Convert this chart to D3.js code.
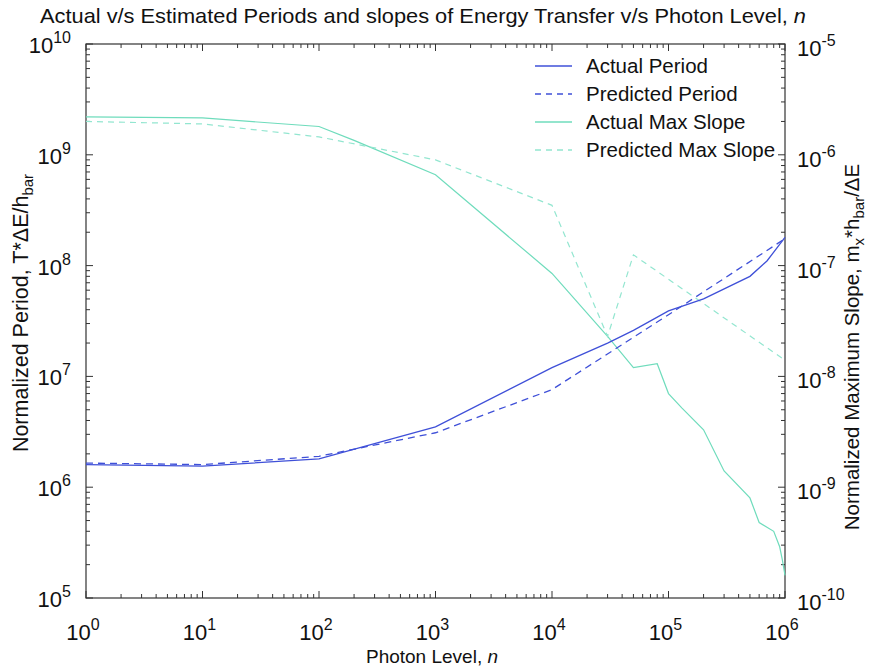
<!DOCTYPE html>
<html>
<head>
<meta charset="utf-8">
<script src="https://cdn.jsdelivr.net/npm/d3@7"></script>
<style>
  body { margin: 0; background: #fff; }
  text { font-family: "Liberation Sans", Arial, sans-serif; fill: #111; }
</style>
</head>
<body>
<svg id="chart" width="874" height="671"></svg>
<script>
// photon levels (x) for each series
const nPeriod = [1, 10, 100, 1000, 10000, 30000, 50000, 100000, 200000, 500000, 700000, 1000000];
const actualPeriod = [1.6e6, 1.55e6, 1.8e6, 3.5e6, 1.2e7, 2.0e7, 2.6e7, 3.9e7, 5.0e7, 8.0e7, 1.1e8, 1.8e8];
const nPred = [1, 10, 100, 1000, 10000, 100000, 1000000];
const predictedPeriod = [1.65e6, 1.6e6, 1.9e6, 3.1e6, 7.6e6, 3.6e7, 1.75e8];

const nSlope = [1, 10, 100, 200, 1000, 10000, 30000, 50000, 80000, 100000, 130000, 200000, 300000, 500000, 600000, 800000, 900000, 950000, 1000000];
const actualSlope = [2.2e-6, 2.15e-6, 1.8e-6, 1.35e-6, 6.6e-7, 8.5e-8, 2.3e-8, 1.2e-8, 1.3e-8, 7e-9, 5.2e-9, 3.3e-9, 1.4e-9, 8e-10, 4.8e-10, 4e-10, 2.9e-10, 2.2e-10, 1.6e-10];
const nPredSlope = [1, 10, 100, 1000, 10000, 30000, 50000, 1000000];
const predictedSlope = [2.0e-6, 1.9e-6, 1.45e-6, 9e-7, 3.5e-7, 2.3e-8, 1.25e-7, 1.4e-8];

const xExp = [0, 1, 2, 3, 4, 5, 6];
const yLeftExp = [5, 6, 7, 8, 9, 10];
const yRightExp = [-10, -9, -8, -7, -6, -5];

const legendNames = ["Actual Period", "Predicted Period", "Actual Max Slope", "Predicted Max Slope"];

const blue = "#3f50d8", green = "#6fdcbc", green2 = "#93e6d0";

const pLeft = 86, pRight = 785, pTop = 44, pBottom = 598;
const svg = d3.select("#chart");

const x = d3.scaleLog().domain([1, 1e6]).range([pLeft, pRight]);
const yL = d3.scaleLog().domain([1e5, 1e10]).range([pBottom, pTop]);
const yR = d3.scaleLog().domain([1e-10, 1e-5]).range([pBottom, pTop]);

// minor + major tick values
function allTicks(lo, hi) {
  const t = [];
  for (let e = lo; e < hi; e++) for (let m = 1; m < 10; m++) t.push(m * Math.pow(10, e));
  t.push(Math.pow(10, hi));
  return t;
}
const isMajor = v => Math.abs(Math.log10(v) - Math.round(Math.log10(v))) < 1e-9;

const g = svg.append("g");
const tickCol = "#333";
// x ticks bottom and top
allTicks(0, 6).forEach(v => {
  const len = isMajor(v) ? 7 : 4;
  const px = x(v);
  g.append("line").attr("x1", px).attr("x2", px).attr("y1", pBottom).attr("y2", pBottom - len).attr("stroke", tickCol);
  g.append("line").attr("x1", px).attr("x2", px).attr("y1", pTop).attr("y2", pTop + len).attr("stroke", tickCol);
});
allTicks(5, 10).forEach(v => {
  const len = isMajor(v) ? 7 : 4;
  const py = yL(v);
  g.append("line").attr("x1", pLeft).attr("x2", pLeft + len).attr("y1", py).attr("y2", py).attr("stroke", tickCol);
});
allTicks(-10, -5).forEach(v => {
  const len = isMajor(v) ? 7 : 4;
  const py = yR(v);
  g.append("line").attr("x1", pRight).attr("x2", pRight - len).attr("y1", py).attr("y2", py).attr("stroke", tickCol);
});
g.append("rect").attr("x", pLeft).attr("y", pTop).attr("width", pRight - pLeft).attr("height", pBottom - pTop)
  .attr("fill", "none").attr("stroke", "#333").attr("stroke-width", 1.2);

// tick labels
function powLabel(sel, e) {
  sel.append("tspan").text("10");
  sel.append("tspan").attr("font-size", 16).attr("dy", -10).text(e);
}
xExp.forEach(e => {
  const t = svg.append("text").attr("x", x(Math.pow(10, e)) - 3).attr("y", pBottom + 42)
    .attr("text-anchor", "middle").attr("font-size", 22);
  powLabel(t, e);
});
yLeftExp.forEach(e => {
  const t = svg.append("text").attr("x", 71).attr("y", yL(Math.pow(10, e)) + 9)
    .attr("text-anchor", "end").attr("font-size", 22);
  powLabel(t, e);
});
yRightExp.forEach(e => {
  const t = svg.append("text").attr("x", 797).attr("y", yR(Math.pow(10, e)) + 12)
    .attr("text-anchor", "start").attr("font-size", 22);
  powLabel(t, e);
});

// series
const line = (xs, ys, yScale) => d3.line().x((d, i) => x(xs[i])).y(d => yScale(d))(ys);
const series = [
  { xs: nSlope, ys: actualSlope, s: yR, c: green, dash: null, w: 1.2 },
  { xs: nPredSlope, ys: predictedSlope, s: yR, c: green2, dash: "6,5", w: 1.2 },
  { xs: nPred, ys: predictedPeriod, s: yL, c: blue, dash: "7,5", w: 1.3 },
  { xs: nPeriod, ys: actualPeriod, s: yL, c: blue, dash: null, w: 1.3 }
];
series.forEach(d => {
  svg.append("path").attr("d", line(d.xs, d.ys, d.s)).attr("fill", "none")
    .attr("stroke", d.c).attr("stroke-width", d.w).attr("stroke-dasharray", d.dash);
});

// legend
const legStyle = [
  { c: blue, dash: null }, { c: blue, dash: "6,5" }, { c: green, dash: null }, { c: green2, dash: "6,5" }
];
const legY = d3.scaleLinear().domain([0, 3]).range([66, 150]);
legendNames.forEach((name, i) => {
  const yy = legY(i);
  svg.append("line").attr("x1", 535).attr("x2", 572).attr("y1", yy).attr("y2", yy)
    .attr("stroke", legStyle[i].c).attr("stroke-width", 1.3).attr("stroke-dasharray", legStyle[i].dash);
  svg.append("text").attr("x", 586).attr("y", yy + 7).attr("font-size", 20.5).text(name);
});

// title
const title = svg.append("text").attr("x", 423).attr("y", 23).attr("text-anchor", "middle")
  .attr("font-size", 21).attr("textLength", 766).attr("lengthAdjust", "spacingAndGlyphs");
title.append("tspan").text("Actual v/s Estimated Periods and slopes of Energy Transfer v/s Photon Level, ");
title.append("tspan").attr("font-style", "italic").text("n");

// axis titles
const xl = svg.append("text").attr("x", 432).attr("y", 663).attr("text-anchor", "middle").attr("font-size", 19);
xl.append("tspan").text("Photon Level, ");
xl.append("tspan").attr("font-style", "italic").text("n");

const ylT = svg.append("text").attr("transform", "translate(28,313) rotate(-90)")
  .attr("text-anchor", "middle").attr("font-size", 21.5);
ylT.append("tspan").text("Normalized Period, T*\u0394E/h");
ylT.append("tspan").attr("font-size", 15).attr("dy", 5).text("bar");

const yrT = svg.append("text").attr("transform", "translate(859,347) rotate(-90)")
  .attr("text-anchor", "middle").attr("font-size", 20.5);
yrT.append("tspan").text("Normalized Maximum Slope, m");
yrT.append("tspan").attr("font-size", 15).attr("dy", 5).text("x");
yrT.append("tspan").attr("dy", -5).text("*h");
yrT.append("tspan").attr("font-size", 15).attr("dy", 5).text("bar");
yrT.append("tspan").attr("dy", -5).text("/\u0394E");
</script>
</body>
</html>
